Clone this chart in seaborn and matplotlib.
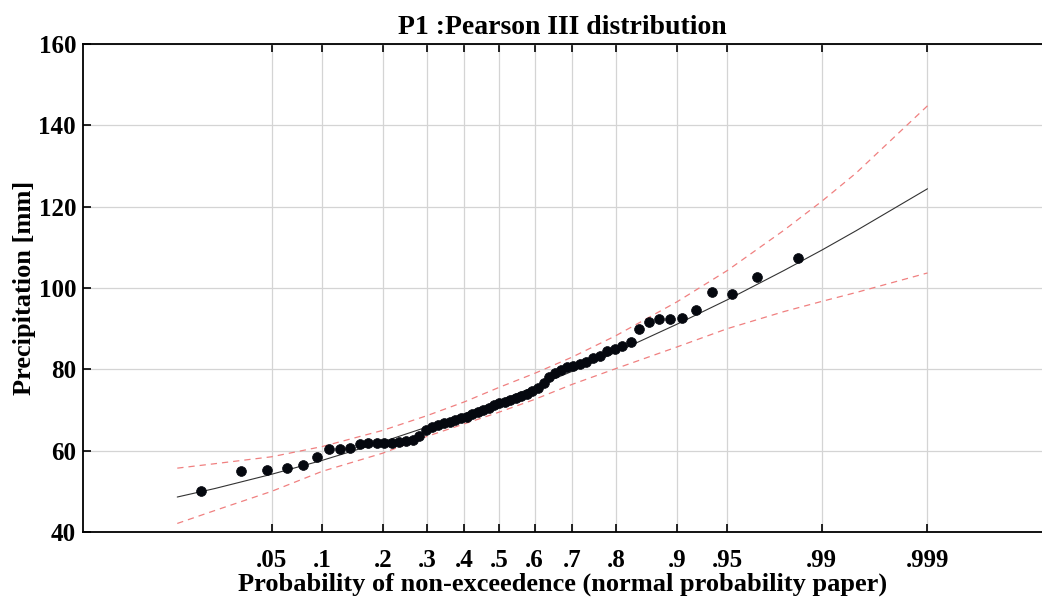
import numpy as np
import pandas as pd
import matplotlib
matplotlib.use("Agg")
import matplotlib.pyplot as plt
import seaborn as sns
from matplotlib.ticker import FixedLocator, NullLocator
from statistics import NormalDist

# sorted annual maxima (mm)
precip = [50.1, 55.0, 55.3, 55.8, 56.5, 58.5, 60.5, 60.5, 60.7, 61.7,
          61.9, 61.9, 61.9, 61.9, 62.2, 62.4, 62.7, 63.7, 65.1, 65.9,
          66.4, 66.7, 67.1, 67.6, 68.0, 68.3, 69.0, 69.6, 70.1, 70.6,
          71.2, 71.7, 72.0, 72.5, 72.9, 73.4, 73.9, 74.6, 75.5, 76.7,
          78.2, 79.2, 79.9, 80.5, 80.9, 81.4, 81.9, 82.8, 83.4, 84.4,
          85.1, 85.8, 86.8, 90.0, 91.7, 92.5, 92.5, 92.7, 94.5, 98.9,
          98.6, 102.6, 107.3]

# fitted Pearson III quantiles and confidence limits
curve_p = [0.01, 0.02, 0.05, 0.1, 0.2, 0.3, 0.4, 0.5, 0.6, 0.7, 0.8,
           0.9, 0.95, 0.98, 0.99, 0.995, 0.999]
fit_mm = [48.6, 50.7, 54.2, 57.6, 62.2, 65.8, 69.1, 72.3, 75.7, 79.5, 84.2,
          91.1, 97.1, 104.3, 109.3, 114.1, 124.4]
upper_mm = [55.7, 56.8, 58.5, 61.0, 65.0, 68.6, 72.0, 75.6, 79.0, 83.0, 88.3,
            96.6, 104.3, 114.2, 121.3, 128.3, 144.8]
lower_mm = [42.1, 45.3, 50.0, 54.9, 59.4, 63.5, 66.6, 69.5, 72.6, 76.3, 80.2,
            85.5, 90.0, 94.2, 96.7, 98.9, 103.7]

prob_ticks = [0.05, 0.1, 0.2, 0.3, 0.4, 0.5, 0.6, 0.7, 0.8, 0.9, 0.95, 0.99, 0.999]
prob_labels = ['.05', '.1', '.2', '.3', '.4', '.5', '.6', '.7', '.8', '.9', '.95', '.99', '.999']
y_ticks = [40, 60, 80, 100, 120, 140, 160]

# Weibull plotting positions
n = len(precip)
pts = pd.DataFrame({'p': np.arange(1, n + 1) / (n + 1), 'mm': precip})
band = pd.DataFrame({'p': curve_p, 'fit': fit_mm, 'up': upper_mm, 'lo': lower_mm})

_nd = NormalDist()
_ppf = np.vectorize(_nd.inv_cdf, otypes=[float])
_cdf = np.vectorize(_nd.cdf, otypes=[float])


def probit(p):
    p = np.clip(np.asarray(p, dtype=float), 1e-9, 1 - 1e-9)
    return _ppf(p)


def inv_probit(z):
    return _cdf(np.asarray(z, dtype=float))


sns.set_style('ticks')
plt.rcParams['font.family'] = ['Liberation Serif', 'DejaVu Serif']
plt.rcParams['font.weight'] = 'bold'
for key in ['text.color', 'axes.labelcolor', 'xtick.color', 'ytick.color']:
    plt.rcParams[key] = 'black'

fig = plt.figure(figsize=(10.42, 5.98), dpi=100)
ax = fig.add_axes([83 / 1042, 1 - 532 / 598, (1042 - 83) / 1042, (532 - 44) / 598])
ax.set_xscale('function', functions=(probit, inv_probit))

# normal probability paper: confidence band, fitted curve, observations
sns.lineplot(data=band, x='p', y='up', ax=ax, color='#f08080', lw=0.9,
             linestyle=(0, (5, 4)), sort=False)
sns.lineplot(data=band, x='p', y='lo', ax=ax, color='#f08080', lw=0.9,
             linestyle=(0, (5, 4)), sort=False)
sns.lineplot(data=band, x='p', y='fit', ax=ax, color='#333333', lw=0.8, sort=False)
sns.scatterplot(data=pts, x='p', y='mm', ax=ax, color='#05080f', s=50,
                edgecolor='#05080f', linewidth=0.5, zorder=5)

ax.set_xlim(float(inv_probit(-3.007)), float(inv_probit(3.917)))
ax.set_ylim(40, 160)
ax.xaxis.set_major_locator(FixedLocator(prob_ticks))
ax.xaxis.set_minor_locator(NullLocator())
ax.set_xticks(prob_ticks)
ax.set_xticklabels(prob_labels)
ax.set_yticks(y_ticks)

ax.grid(True, color='#d4d4d4', lw=0.9)
ax.set_axisbelow(True)
ax.tick_params(axis='x', direction='in', top=True, length=6, width=1.2,
               labelsize=18, pad=12)
ax.tick_params(axis='y', direction='in', length=6, width=1.2, labelsize=18, pad=5)
for lab in ax.get_xticklabels() + ax.get_yticklabels():
    lab.set_fontweight('bold')
for side in ['left', 'top', 'bottom']:
    ax.spines[side].set_linewidth(1.3)
    ax.spines[side].set_color('black')
ax.spines['right'].set_visible(False)

ax.set_title('P1 :Pearson III distribution', fontsize=20, fontweight='bold', pad=7)
ax.set_xlabel('Probability of non-exceedence (normal probability paper)',
              fontsize=19, fontweight='bold', labelpad=1)
ax.set_ylabel('Precipitation [mm]', fontsize=19, fontweight='bold', labelpad=2)

fig.savefig('out.png', dpi=100)
